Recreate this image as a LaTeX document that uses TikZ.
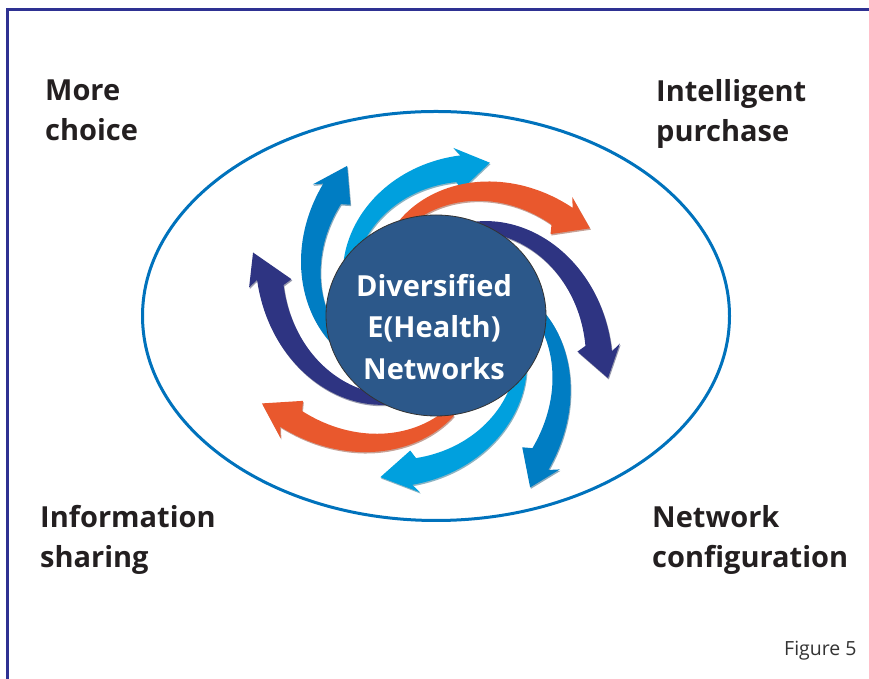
\documentclass[tikz,border=0pt]{standalone}
\usepackage{fontspec}
\setmainfont{Open Sans}
\definecolor{frameblue}{RGB}{46,49,146}
\definecolor{ringblue}{RGB}{0,114,188}
\definecolor{skyblue}{RGB}{0,160,222}
\definecolor{midblue}{RGB}{0,125,195}
\definecolor{navyblue}{RGB}{46,52,130}
\definecolor{flame}{RGB}{233,88,45}
\definecolor{hubfill}{RGB}{44,88,138}
\definecolor{ink}{RGB}{35,31,32}

% band widths at tail and head, half width of the head, skew of the head base
\newcommand\tailw{12}
\newcommand\headw{27}
\newcommand\headhalf{20}
\newcommand\barbskew{2.8}

% spiral arrow around the origin, running clockwise
% #1 tail angle, #2 head-base angle, #3 tail radius, #4 head-base radius,
% #5 tip angle, #6 tip radius
\newcommand\swirlpath[6]{%
  plot[domain=0:1,samples=40]
    ({#1+(#2-#1)*\x}:{#3+(#4-#3)*\x+(\tailw+(\headw-\tailw)*\x)/2})
  -- ({#2+\barbskew}:{#4+\headhalf}) -- (#5:#6) -- ({#2-\barbskew}:{#4-\headhalf})
  -- plot[domain=0:1,samples=40]
    ({#2+(#1-#2)*\x}:{#4+(#3-#4)*\x-(\headw+(\tailw-\headw)*\x)/2})
  -- cycle}
\newcommand\swirl[7]{%
  \fill[#1!55!black,opacity=0.45,shift={(0.8,-1.4)}] \swirlpath{#2}{#3}{#4}{#5}{#6}{#7};
  \fill[#1] \swirlpath{#2}{#3}{#4}{#5}{#6}{#7};}

\tikzset{
  corner/.style={anchor=base west,inner sep=0pt,align=left,text=ink,
    font=\fontsize{29}{40.5}\selectfont\bfseries},
  hub/.style={ellipse,minimum width=220pt,minimum height=201pt,inner sep=0pt,
    fill=hubfill,draw=black!80,line width=0.8pt},
  hubtext/.style={align=center,text=white,inner sep=0pt,
    font=\fontsize{29}{41.5}\selectfont\bfseries},
  ring/.style={draw=ringblue,line width=3pt},
  frame/.style={draw=frameblue,line width=3pt},
}
\usetikzlibrary{shapes.geometric}

\begin{document}
\begin{tikzpicture}[x=1pt,y=1pt]
\useasboundingbox (0,0) rectangle (869,679);

% outer frame (top and left edges)
\draw[frame] (875,669.5) -- (7.5,669.5) -- (7.5,-5);

% surrounding ring
\draw[ring] (436,363) ellipse [x radius=293.5, y radius=204.5];

% pinwheel of arrows
\begin{scope}[shift={(436,363.5)}]
  \swirl{skyblue}{156}{81.3}{96}{148.5}{70.6}{162}
  \swirl{midblue}{201}{130.5}{96}{160}{120.7}{174}
  \swirl{navyblue}{241}{168.7}{96}{169}{161}{193.5}
  \swirl{flame}{280}{215.5}{96}{178}{206.8}{195}
  \swirl{skyblue}{333}{262}{96}{157.5}{251}{171}
  \swirl{midblue}{366}{306}{96}{177.5}{298.7}{196}
  \swirl{navyblue}{67}{-11.5}{96}{166}{-20}{183}
  \swirl{flame}{111}{38.2}{96}{160.5}{29.5}{177}
\end{scope}

% central hub
\node[hub] (core) at (436,363.5) {};
\node[hubtext] (coretext) at (434,352) {Diversified\\E(Health)\\Networks};

% corner labels (anchored on the baseline of the last line)
\node[corner] (choice) at (45,538) {More\\choice};
\node[corner] (purchase) at (656,537) {Intelligent\\purchase};
\node[corner] (sharing) at (40,111) {Information\\sharing};
\node[corner] (config) at (652,111) {Network\\configuration};

\node[anchor=base west,inner sep=0pt,text=black!80,font=\fontsize{19.5}{22}\selectfont]
  (figlabel) at (784,23) {Figure 5};
\end{tikzpicture}
\end{document}
